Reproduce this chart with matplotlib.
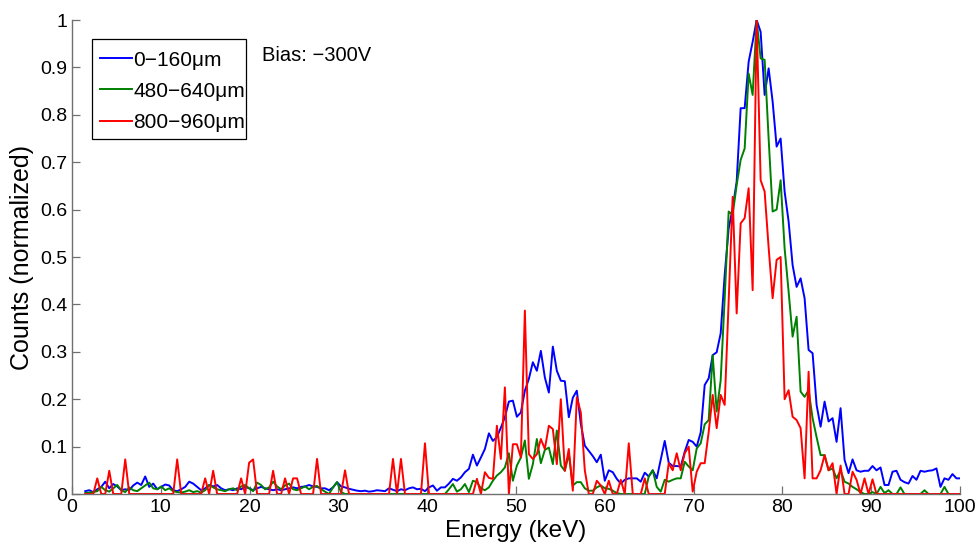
import matplotlib
matplotlib.use("Agg")
import matplotlib.pyplot as plt
from matplotlib.patches import Rectangle
import numpy as np

plt.rcParams["font.family"] = ["Liberation Sans", "DejaVu Sans"]

# energy channels (keV), ~0.45 keV per channel
energy = 1.5 + 0.45 * np.arange(220)

# 0-160um
blue = [
    0.006, 0.008, 0.004, 0.010, 0.015, 0.026, 0.012, 0.021, 0.016, 0.008,
    0.010, 0.008, 0.018, 0.024, 0.019, 0.037, 0.015, 0.022, 0.010, 0.015,
    0.020, 0.018, 0.008, 0.006, 0.010, 0.015, 0.026, 0.022, 0.015, 0.008,
    0.012, 0.019, 0.016, 0.019, 0.012, 0.008, 0.010, 0.008, 0.012, 0.010,
    0.015, 0.012, 0.008, 0.012, 0.015, 0.012, 0.010, 0.008, 0.010, 0.008,
    0.010, 0.012, 0.014, 0.012, 0.015, 0.016, 0.019, 0.016, 0.015, 0.012,
    0.012, 0.008, 0.014, 0.025, 0.016, 0.014, 0.011, 0.009, 0.007, 0.006,
    0.007, 0.005, 0.006, 0.008, 0.007, 0.006, 0.012, 0.009, 0.006, 0.010,
    0.008, 0.012, 0.014, 0.010, 0.011, 0.006, 0.014, 0.018, 0.007, 0.014,
    0.014, 0.022, 0.032, 0.028, 0.035, 0.046, 0.053, 0.083, 0.060, 0.077,
    0.095, 0.128, 0.112, 0.120, 0.140, 0.162, 0.195, 0.197, 0.163, 0.172,
    0.218, 0.243, 0.278, 0.260, 0.302, 0.246, 0.214, 0.311, 0.260, 0.239,
    0.238, 0.162, 0.203, 0.218, 0.148, 0.102, 0.091, 0.080, 0.067, 0.083,
    0.028, 0.050, 0.046, 0.032, 0.022, 0.030, 0.033, 0.033, 0.033, 0.026,
    0.045, 0.037, 0.050, 0.033, 0.072, 0.112, 0.066, 0.059, 0.059, 0.058,
    0.089, 0.114, 0.110, 0.100, 0.130, 0.230, 0.244, 0.293, 0.299, 0.339,
    0.462, 0.560, 0.603, 0.659, 0.814, 0.814, 0.912, 0.954, 1.000, 0.975,
    0.842, 0.898, 0.828, 0.733, 0.750, 0.638, 0.575, 0.483, 0.437, 0.455,
    0.413, 0.304, 0.297, 0.188, 0.142, 0.195, 0.153, 0.160, 0.110, 0.181,
    0.072, 0.044, 0.073, 0.050, 0.047, 0.049, 0.049, 0.059, 0.050, 0.056,
    0.019, 0.019, 0.047, 0.049, 0.030, 0.025, 0.022, 0.038, 0.030, 0.049,
    0.047, 0.049, 0.050, 0.054, 0.015, 0.033, 0.030, 0.042, 0.033, 0.033,
]

# 480-640um
green = [
    0.002, 0.003, 0.004, 0.006, 0.015, 0.008, 0.005, 0.012, 0.019, 0.008,
    0.004, 0.014, 0.008, 0.006, 0.012, 0.018, 0.024, 0.012, 0.010, 0.016,
    0.008, 0.012, 0.006, 0.004, 0.003, 0.005, 0.008, 0.004, 0.006, 0.003,
    0.008, 0.019, 0.014, 0.010, 0.008, 0.006, 0.010, 0.012, 0.008, 0.016,
    0.019, 0.012, 0.006, 0.024, 0.019, 0.010, 0.014, 0.026, 0.016, 0.010,
    0.018, 0.022, 0.010, 0.008, 0.012, 0.016, 0.010, 0.015, 0.017, 0.010,
    0.005, 0.000, 0.014, 0.025, 0.004, 0.000, 0.000, 0.000, 0.000, 0.000,
    0.000, 0.000, 0.000, 0.000, 0.000, 0.000, 0.000, 0.000, 0.000, 0.000,
    0.000, 0.000, 0.000, 0.000, 0.000, 0.000, 0.000, 0.000, 0.000, 0.000,
    0.000, 0.010, 0.021, 0.005, 0.010, 0.021, 0.004, 0.028, 0.025, 0.012,
    0.008, 0.014, 0.028, 0.039, 0.046, 0.056, 0.086, 0.028, 0.060, 0.077,
    0.113, 0.032, 0.063, 0.116, 0.065, 0.093, 0.098, 0.063, 0.134, 0.060,
    0.049, 0.084, 0.018, 0.025, 0.025, 0.012, 0.007, 0.007, 0.014, 0.018,
    0.012, 0.011, 0.007, 0.002, 0.000, 0.000, 0.000, 0.000, 0.000, 0.000,
    0.000, 0.037, 0.050, 0.015, 0.005, 0.030, 0.026, 0.030, 0.033, 0.033,
    0.068, 0.058, 0.050, 0.096, 0.107, 0.147, 0.156, 0.293, 0.174, 0.240,
    0.413, 0.596, 0.589, 0.652, 0.705, 0.729, 0.887, 0.842, 1.000, 0.919,
    0.916, 0.750, 0.596, 0.600, 0.662, 0.518, 0.427, 0.332, 0.374, 0.216,
    0.205, 0.219, 0.160, 0.120, 0.082, 0.082, 0.050, 0.054, 0.033, 0.050,
    0.026, 0.022, 0.015, 0.010, 0.004, 0.000, 0.000, 0.004, 0.000, 0.015,
    0.002, 0.008, 0.000, 0.000, 0.014, 0.000, 0.000, 0.000, 0.000, 0.000,
    0.008, 0.000, 0.000, 0.000, 0.000, 0.015, 0.000, 0.000, 0.000, 0.000,
]

# 800-960um
red = [
    0.000, 0.000, 0.000, 0.033, 0.000, 0.000, 0.049, 0.000, 0.000, 0.000,
    0.073, 0.000, 0.000, 0.000, 0.000, 0.000, 0.000, 0.000, 0.000, 0.000,
    0.000, 0.000, 0.000, 0.073, 0.000, 0.000, 0.000, 0.000, 0.000, 0.000,
    0.033, 0.000, 0.049, 0.000, 0.000, 0.000, 0.000, 0.000, 0.000, 0.033,
    0.000, 0.066, 0.073, 0.000, 0.000, 0.000, 0.000, 0.049, 0.000, 0.000,
    0.033, 0.000, 0.033, 0.033, 0.000, 0.000, 0.000, 0.000, 0.074, 0.000,
    0.000, 0.000, 0.000, 0.000, 0.000, 0.050, 0.000, 0.000, 0.000, 0.000,
    0.000, 0.000, 0.000, 0.000, 0.000, 0.000, 0.000, 0.074, 0.000, 0.074,
    0.000, 0.000, 0.000, 0.000, 0.000, 0.107, 0.000, 0.000, 0.000, 0.000,
    0.000, 0.000, 0.000, 0.000, 0.000, 0.000, 0.000, 0.000, 0.032, 0.000,
    0.046, 0.034, 0.032, 0.144, 0.074, 0.225, 0.000, 0.105, 0.105, 0.077,
    0.387, 0.084, 0.074, 0.084, 0.116, 0.095, 0.144, 0.137, 0.063, 0.200,
    0.049, 0.095, 0.007, 0.204, 0.172, 0.050, 0.000, 0.000, 0.028, 0.018,
    0.000, 0.028, 0.000, 0.000, 0.030, 0.000, 0.107, 0.000, 0.000, 0.000,
    0.033, 0.000, 0.000, 0.000, 0.000, 0.000, 0.065, 0.050, 0.086, 0.050,
    0.086, 0.100, 0.005, 0.047, 0.065, 0.065, 0.131, 0.209, 0.139, 0.209,
    0.188, 0.409, 0.627, 0.381, 0.571, 0.582, 0.645, 0.430, 1.000, 0.662,
    0.638, 0.520, 0.413, 0.494, 0.500, 0.200, 0.219, 0.163, 0.156, 0.139,
    0.033, 0.258, 0.033, 0.033, 0.050, 0.082, 0.050, 0.065, 0.000, 0.060,
    0.000, 0.000, 0.047, 0.030, 0.000, 0.033, 0.000, 0.031, 0.000, 0.000,
    0.000, 0.000, 0.000, 0.000, 0.000, 0.000, 0.000, 0.000, 0.000, 0.000,
    0.000, 0.000, 0.000, 0.000, 0.000, 0.000, 0.000, 0.000, 0.000, 0.000,
]

labels = ["0\u2212160\u03bcm", "480\u2212640\u03bcm", "800\u2212960\u03bcm"]
colors = ["#0000ff", "#008000", "#ff0000"]

fig = plt.figure(figsize=(9.79, 5.44), dpi=100)
ax = fig.add_axes([0.0735, 0.0919, 0.9071, 0.8713])

for ys, lab, c in zip([blue, green, red], labels, colors):
    ax.plot(energy, ys, color=c, lw=1.4, label=lab)

ax.set_xlim(0, 100)
ax.set_ylim(0, 1)
ax.set_xticks(np.arange(0, 101, 10))
ax.set_yticks(np.arange(0, 1.01, 0.1))
ax.set_yticklabels(["0", "0.1", "0.2", "0.3", "0.4", "0.5", "0.6", "0.7", "0.8", "0.9", "1"])
ax.tick_params(direction="in", labelsize=14, length=6, width=0.9,
               color="#707070", labelcolor="black")
ax.spines["top"].set_visible(False)
ax.spines["right"].set_visible(False)
for s in ["left", "bottom"]:
    ax.spines[s].set_color("#707070")
    ax.spines[s].set_linewidth(1.0)

ax.set_xlabel("Energy (keV)", fontsize=17.5, labelpad=3)
ax.set_ylabel("Counts (normalized)", fontsize=18, labelpad=4)

# legend entries without frame, box drawn separately (MATLAB-like tight box)
leg = ax.legend(loc="upper left", bbox_to_anchor=(0.0225, 0.953), borderaxespad=0,
                fontsize=15, frameon=False, handlelength=1.5,
                handletextpad=0.1, borderpad=0.4, labelspacing=0.58)
ax.add_patch(Rectangle((0.0225, 0.749), 0.1735, 0.211, transform=ax.transAxes,
                       fill=False, edgecolor="black", lw=0.9, zorder=5))

ax.text(21.4, 0.926, "Bias: \u2212300V", fontsize=14.5, va="center", ha="left")

fig.savefig("out.png", dpi=100)
